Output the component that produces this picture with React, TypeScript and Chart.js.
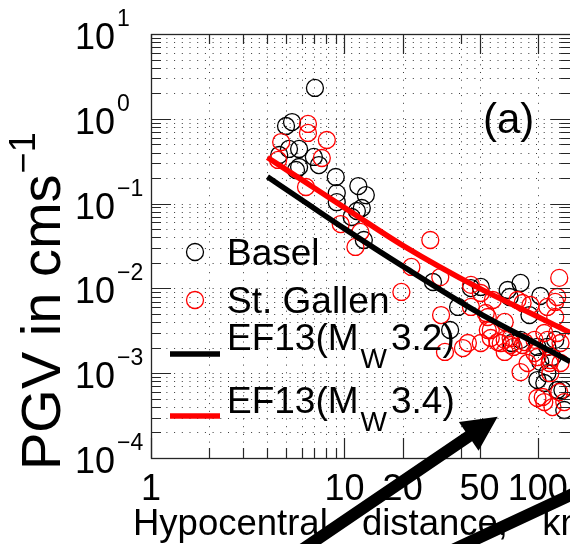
import React, { useEffect, useRef } from "react";
import { Chart, registerables } from "chart.js";

Chart.register(...registerables);

// ---------------- data ----------------
const baselDist = [7.04, 5.36, 4.99, 5.17, 5.83, 4.6, 6.95, 5.83, 5.62, 7.38, 9.02, 11.8, 12.9, 9.13, 9.13, 11.6, 10.9, 12.3, 12.6, 28.7, 35.2, 38.7, 45.1, 50.7, 69.8, 71.5, 81.4, 103, 90.5, 73.2, 81.4, 99.5, 112, 123, 119, 103, 108, 99.5, 112, 126, 134, 137];
const baselPGV = [2.31, 0.916, 0.822, 0.441, 0.441, 0.374, 0.355, 0.27, 0.249, 0.285, 0.206, 0.161, 0.126, 0.133, 0.104, 0.0818, 0.0695, 0.0887, 0.0372, 0.0119, 0.00323, 0.00604, 0.0101, 0.0104, 0.00957, 0.00792, 0.0116, 0.00813, 0.00485, 0.00227, 0.00247, 0.00204, 0.00204, 0.00247, 0.00155, 0.00136, 0.000766, 0.00083, 0.001, 0.000634, 0.000634, 0.000368];

const gallenDist = [6.48, 6.48, 4.71, 8.11, 7.64, 4.54, 6.33, 9.57, 11.4, 12.1, 27.8, 22.2, 19.7, 31.3, 31.6, 33.1, 41.0, 45.1, 45.1, 50.7, 55.1, 57.1, 67.4, 83.4, 129, 112, 126, 50.7, 58.5, 78.5, 91.6, 123, 123, 53.8, 67.4, 55.1, 43.5, 62.0, 72.3, 85.3, 96.1, 99.5, 112, 126, 64.3, 72.3, 83.4, 57.1, 67.4, 81.4, 115, 131, 99.5, 108, 129, 137, 131, 116, 106, 119, 88.5, 96.1, 116, 108, 74.9];
const gallenPGV = [0.869, 0.681, 0.532, 0.562, 0.345, 0.327, 0.157, 0.0574, 0.0308, 0.0463, 0.0372, 0.0179, 0.00908, 0.0136, 0.00485, 0.00178, 0.00198, 0.011, 0.00604, 0.00227, 0.0046, 0.00323, 0.00247, 0.00673, 0.0133, 0.00604, 0.00792, 0.00883, 0.0073, 0.0073, 0.00637, 0.00692, 0.0046, 0.00513, 0.00402, 0.00323, 0.00227, 0.00233, 0.0026, 0.00233, 0.00247, 0.00155, 0.00247, 0.00298, 0.00227, 0.00215, 0.00215, 0.0026, 0.00178, 0.00103, 0.00132, 0.00132, 0.00051, 0.000457, 0.0006, 0.000457, 0.00227, 0.001, 0.000524, 0.000399, 0.00132, 0.00173, 0.00143, 0.00298, 0.00204];

const ef32Dist = [4, 6, 10, 20, 50, 100, 147];
const ef32PGV = [0.207, 0.111, 0.0507, 0.0183, 0.00508, 0.00219, 0.00137];
const ef34Dist = [4, 6, 10, 20, 50, 100, 147];
const ef34PGV = [0.35, 0.192, 0.0897, 0.0322, 0.01, 0.00464, 0.003];

const xMajorTicks = [1, 10, 20, 50, 100];
const xMajorLabels = ["1", "10", "20", "50", "100"];
const xMinorTicks = [2, 3, 4, 5, 6, 7, 8, 9, 40];
const yDecadeExp = [-4, -3, -2, -1, 0, 1];
const yExpLabels = ["\u22124", "\u22123", "\u22122", "\u22121", "0", "1"];

const seriesNames = ["Basel", "St. Gallen"];
const lineNames = ["EF13(M", "EF13(M"];
const lineSubs = ["W", "W"];
const lineTails = ["3.2)", "3.4)"];

// annotation arrows (tail, head) in data units
const arrowTailDist = [5, 30.5];
const arrowTailPGV = [6.2e-6, 6.85e-6];
const arrowHeadDist = [62, 325];
const arrowHeadPGV = [3.07e-4, 8.43e-5];

// ---------------- styles ----------------
const FONT = '"Liberation Sans", Arial, Helvetica, sans-serif';
const RED = "rgb(255,0,0)";
const BLACK = "#000";
const AXIS = "#262626";

const yMinorValues: number[] = [];
for (let e = -4; e <= 0; e++) {
  for (let m = 1; m <= 9; m++) yMinorValues.push(m * Math.pow(10, e));
}
yMinorValues.push(10);

function drawArrow(ctx: CanvasRenderingContext2D, x0: number, y0: number, x1: number, y1: number, shaft: number, headLen: number, headHalf: number) {
  const dx = x1 - x0, dy = y1 - y0;
  const len = Math.hypot(dx, dy);
  const ux = dx / len, uy = dy / len;
  const px = -uy, py = ux;
  const bx = x1 - ux * headLen, by = y1 - uy * headLen;
  ctx.beginPath();
  ctx.moveTo(x0 + px * shaft / 2, y0 + py * shaft / 2);
  ctx.lineTo(bx + px * shaft / 2, by + py * shaft / 2);
  ctx.lineTo(bx + px * headHalf, by + py * headHalf);
  ctx.lineTo(x1, y1);
  ctx.lineTo(bx - px * headHalf, by - py * headHalf);
  ctx.lineTo(bx - px * shaft / 2, by - py * shaft / 2);
  ctx.lineTo(x0 - px * shaft / 2, y0 - py * shaft / 2);
  ctx.closePath();
  ctx.fill();
}

const axesPlugin = {
  id: "matlabAxes",
  beforeDatasetsDraw(chart: any) {
    const { ctx, chartArea: a, scales } = chart;
    const xs = scales.x, ys = scales.y;
    ctx.save();
    ctx.strokeStyle = "#3a3a3a";
    ctx.lineWidth = 1;
    ctx.setLineDash([1, 6.7]);
    for (const v of yMinorValues) {
      const p = Math.round(ys.getPixelForValue(v)) + 0.5;
      ctx.beginPath();
      ctx.moveTo(a.left, p);
      ctx.lineTo(a.right, p);
      ctx.stroke();
    }
    for (const v of [...xMinorTicks, ...xMajorTicks]) {
      const p = Math.round(xs.getPixelForValue(v)) + 0.5;
      ctx.beginPath();
      ctx.moveTo(p, a.bottom);
      ctx.lineTo(p, a.top);
      ctx.stroke();
    }
    ctx.restore();
  },
  afterDraw(chart: any) {
    const { ctx, chartArea: a, scales } = chart;
    const xs = scales.x, ys = scales.y;
    ctx.save();
    // box
    ctx.strokeStyle = AXIS;
    ctx.lineWidth = 1.3;
    ctx.strokeRect(a.left + 0.5, a.top + 0.5, a.right - a.left, a.bottom - a.top);
    // y ticks
    ctx.lineWidth = 1.2;
    yMinorValues.forEach((v) => {
      const p = Math.round(ys.getPixelForValue(v)) + 0.5;
      const major = Math.abs(Math.log10(v) - Math.round(Math.log10(v))) < 1e-6;
      const L = major ? 20 : 10;
      ctx.beginPath();
      ctx.moveTo(a.left, p); ctx.lineTo(a.left + L, p);
      ctx.moveTo(a.right, p); ctx.lineTo(a.right - L, p);
      ctx.stroke();
    });
    // x ticks
    const xt = [...xMajorTicks.map((v) => [v, 20]), ...xMinorTicks.map((v) => [v, 10])];
    xt.forEach(([v, L]) => {
      const p = Math.round(xs.getPixelForValue(v)) + 0.5;
      ctx.beginPath();
      ctx.moveTo(p, a.bottom); ctx.lineTo(p, a.bottom - L);
      ctx.moveTo(p, a.top); ctx.lineTo(p, a.top + L);
      ctx.stroke();
    });

    ctx.fillStyle = "#000";
    // y tick labels
    yDecadeExp.forEach((e, i) => {
      const p = ys.getPixelForValue(Math.pow(10, e));
      ctx.font = `36px ${FONT}`;
      ctx.textAlign = "right";
      ctx.textBaseline = "alphabetic";
      ctx.fillText("10", a.left - 36, p + 15);
      ctx.font = `23px ${FONT}`;
      ctx.textAlign = "left";
      ctx.fillText(yExpLabels[i], a.left - 34, p - 8);
    });
    // x tick labels
    ctx.font = `36px ${FONT}`;
    ctx.textAlign = "center";
    xMajorTicks.forEach((v, i) => {
      const p = xs.getPixelForValue(v);
      ctx.fillText(xMajorLabels[i], p, a.bottom + 42);
    });
    // x title
    ctx.save();
    ctx.textAlign = "left";
    ctx.font = `36.5px ${FONT}`;
    (ctx as any).wordSpacing = "24px";
    ctx.fillText("Hypocentral distance, km", 133, 535);
    ctx.restore();
    // y title
    ctx.save();
    ctx.font = `56px ${FONT}`;
    const mainTxt = "PGV in cms";
    const w = ctx.measureText(mainTxt).width;
    ctx.translate(60, 470);
    ctx.rotate(-Math.PI / 2);
    ctx.textAlign = "left";
    ctx.fillText(mainTxt, 0, 0);
    ctx.font = `36px ${FONT}`;
    ctx.fillText("\u22121", w + 1, -25);
    ctx.restore();

    // panel label
    ctx.font = `42px ${FONT}`;
    ctx.textAlign = "left";
    ctx.fillText("(a)", 483, 133);

    // legend
    const markerX = 195;
    const textX = 227;
    const circleY = [252, 300];
    const circleTextY = [265, 313];
    const circleColors = [BLACK, RED];
    ctx.lineWidth = 1.3;
    seriesNames.forEach((name, i) => {
      ctx.strokeStyle = circleColors[i];
      ctx.beginPath();
      ctx.arc(markerX, circleY[i], 8.5, 0, Math.PI * 2);
      ctx.stroke();
      ctx.font = `37px ${FONT}`;
      ctx.fillText(name, textX, circleTextY[i]);
    });
    const lineY = [354, 416];
    const lineTextY = [350, 413];
    const lineColors = [BLACK, RED];
    lineNames.forEach((name, i) => {
      ctx.strokeStyle = lineColors[i];
      ctx.lineWidth = 5.5;
      ctx.beginPath();
      ctx.moveTo(170, lineY[i]);
      ctx.lineTo(220, lineY[i]);
      ctx.stroke();
      ctx.font = `37px ${FONT}`;
      ctx.fillText(name, textX, lineTextY[i]);
      let x = textX + ctx.measureText(name).width + 2;
      ctx.font = `28px ${FONT}`;
      ctx.fillText(lineSubs[i], x, lineTextY[i] + 18);
      x += ctx.measureText(lineSubs[i]).width + 4;
      ctx.font = `37px ${FONT}`;
      ctx.fillText(lineTails[i], x, lineTextY[i]);
    });

    // arrows
    ctx.fillStyle = "#000";
    arrowTailDist.forEach((_, i) => {
      const x0 = xs.getPixelForValue(arrowTailDist[i]);
      const y0 = ys.getPixelForValue(arrowTailPGV[i]);
      const x1 = xs.getPixelForValue(arrowHeadDist[i]);
      const y1 = ys.getPixelForValue(arrowHeadPGV[i]);
      drawArrow(ctx, x0, y0, x1, y1, 12, 35, 17.5);
    });
    ctx.restore();
  },
};

export default function App() {
  const ref = useRef<HTMLCanvasElement | null>(null);
  useEffect(() => {
    const canvas = ref.current;
    if (!canvas) return;
    const pts = (xs: number[], ys: number[]) => xs.map((x, i) => ({ x, y: ys[i] }));
    const chart = new Chart(canvas, {
      type: "scatter",
      data: {
        datasets: [
          {
            type: "line",
            label: "EF13(Mw3.4)",
            data: pts(ef34Dist, ef34PGV),
            borderColor: RED,
            borderWidth: 5.5,
            pointRadius: 0,
            fill: false,
            cubicInterpolationMode: "monotone",
            order: 0,
          } as any,
          {
            type: "line",
            label: "EF13(Mw3.2)",
            data: pts(ef32Dist, ef32PGV),
            borderColor: BLACK,
            borderWidth: 5.5,
            pointRadius: 0,
            fill: false,
            cubicInterpolationMode: "monotone",
            order: 1,
          } as any,
          {
            label: "St. Gallen",
            data: pts(gallenDist, gallenPGV),
            borderColor: RED,
            backgroundColor: "rgba(0,0,0,0)",
            pointRadius: 8.5,
            pointBorderWidth: 1.3,
            borderWidth: 1.3,
            order: 2,
          },
          {
            label: "Basel",
            data: pts(baselDist, baselPGV),
            borderColor: BLACK,
            backgroundColor: "rgba(0,0,0,0)",
            pointRadius: 8.5,
            pointBorderWidth: 1.3,
            borderWidth: 1.3,
            order: 3,
          },
        ],
      },
      options: {
        animation: false,
        responsive: false,
        devicePixelRatio: 1,
        events: [],
        layout: { padding: { left: 151, right: 7, top: 34, bottom: 86 } },
        plugins: { legend: { display: false }, tooltip: { enabled: false } },
        scales: {
          x: { type: "logarithmic", min: 1, max: 147, display: false },
          y: { type: "logarithmic", min: 1e-4, max: 10, display: false },
        },
      },
      plugins: [axesPlugin],
    });
    return () => chart.destroy();
  }, []);
  return (
    <div style={{ position: "absolute", left: 0, top: 0, width: 570, height: 544, overflow: "hidden", background: "#fff" }}>
      <canvas ref={ref} width={580} height={544} style={{ width: 580, height: 544, display: "block" }} />
    </div>
  );
}
